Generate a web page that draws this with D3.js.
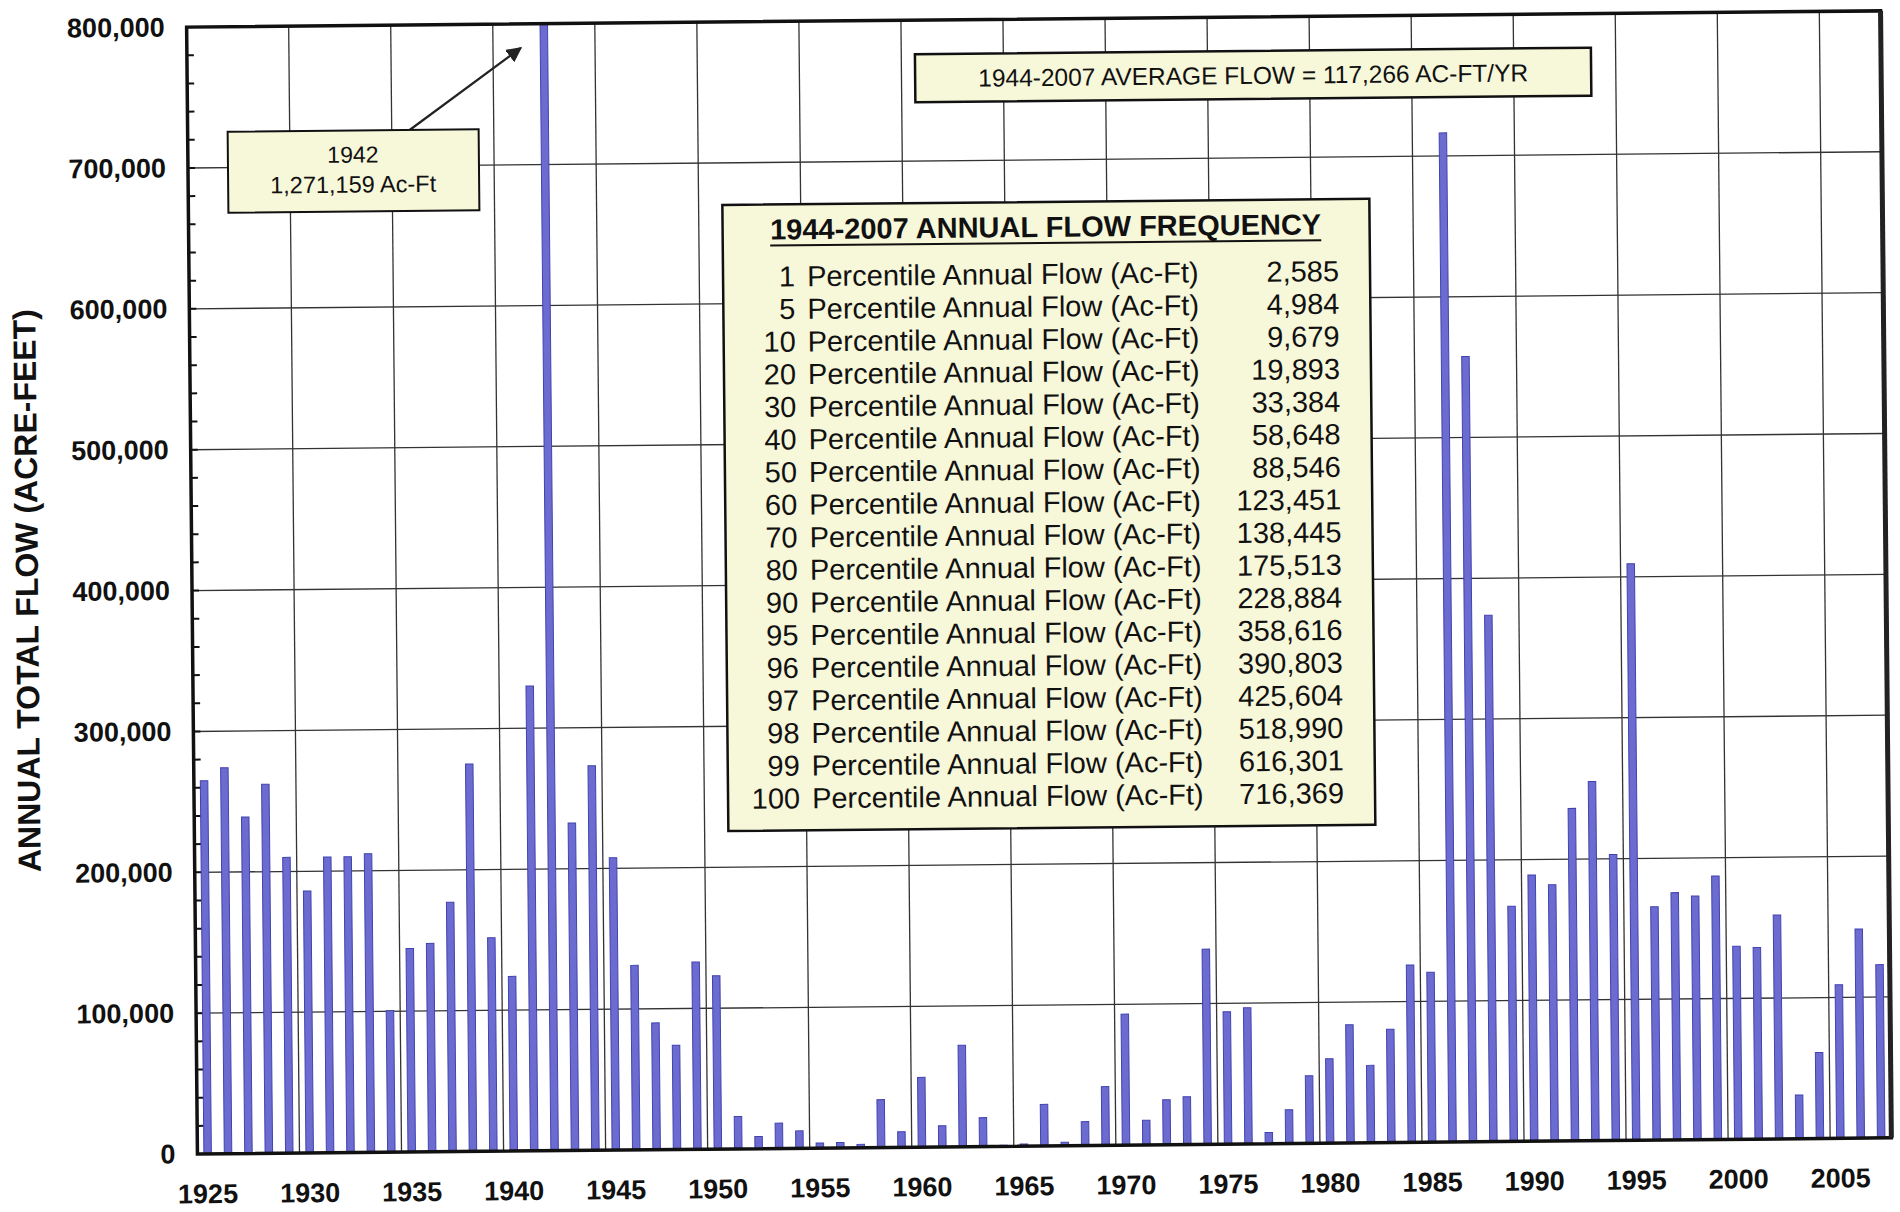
<!DOCTYPE html>
<html>
<head>
<meta charset="utf-8">
<script src="https://cdn.jsdelivr.net/npm/d3@7/dist/d3.min.js"></script>
<style>
  body { margin: 0; background: #fff; }
  svg { display: block; font-family: "Liberation Sans", Arial, sans-serif; }
</style>
</head>
<body>
<div id="chart"></div>
<script>
// annual total flow, one bar per year (acre-feet)
var years = [
  1925, 1926, 1927, 1928, 1929, 1930, 1931, 1932, 1933, 1934,
  1935, 1936, 1937, 1938, 1939, 1940, 1941, 1942, 1943, 1944,
  1945, 1946, 1947, 1948, 1949, 1950, 1951, 1952, 1953, 1954,
  1955, 1956, 1957, 1958, 1959, 1960, 1961, 1962, 1963, 1964,
  1965, 1966, 1967, 1968, 1969, 1970, 1971, 1972, 1973, 1974,
  1975, 1976, 1977, 1978, 1979, 1980, 1981, 1982, 1983, 1984,
  1985, 1986, 1987, 1988, 1989, 1990, 1991, 1992, 1993, 1994,
  1995, 1996, 1997, 1998, 1999, 2000, 2001, 2002, 2003, 2004,
  2005, 2006, 2007
];
var flows = [
  265000, 274000, 239000, 262000, 210000, 186000, 210000, 210000, 212000, 100500,
  144500, 148000, 177000, 275000, 151500, 124000, 330000, 1271159, 232500, 272973,
  207500, 131000, 90000, 74000, 133000, 123000, 23000, 8600, 18000, 12400,
  3600, 3800, 2400, 34000, 11000, 49500, 15000, 72000, 20500, 800,
  1500, 29500, 2500, 17000, 41700, 93000, 17600, 32000, 34000, 138600,
  94000, 96700, 8000, 24000, 48000, 60000, 84000, 55000, 80500, 126000,
  120700, 716369, 557530, 373729, 167000, 189000, 182000, 236000, 255000, 203000,
  409300, 165600, 175500, 173000, 187000, 137000, 136000, 159000, 31000, 61000,
  109000, 148500, 123000
];

var yTicks = [0, 100000, 200000, 300000, 400000, 500000, 600000, 700000, 800000];
var xLabelYears = [1925, 1930, 1935, 1940, 1945, 1950, 1955, 1960, 1965, 1970,
                   1975, 1980, 1985, 1990, 1995, 2000, 2005];

// frequency table
var pctRanks = [1, 5, 10, 20, 30, 40, 50, 60, 70, 80, 90, 95, 96, 97, 98, 99, 100];
var pctFlows = ['2,585', '4,984', '9,679', '19,893', '33,384', '58,648', '88,546',
                '123,451', '138,445', '175,513', '228,884', '358,616', '390,803',
                '425,604', '518,990', '616,301', '716,369'];

var peakYear = 1942;
var peakText = '1,271,159 Ac-Ft';
var averageText = '1944-2007 AVERAGE FLOW = 117,266 AC-FT/YR';
var tableTitle = '1944-2007 ANNUAL FLOW FREQUENCY';
var yTitle = 'ANNUAL TOTAL FLOW (ACRE-FEET)';

var width = 1900, height = 1212;
var plot = {left: 192, right: 1886, top: 19, bottom: 1146};
var boxFill = '#f7f7da';
var ink = '#111';

var data = years.map(function(yr, i) { return {year: yr, flow: flows[i]}; });

var svg = d3.select('#chart').append('svg')
    .attr('width', width)
    .attr('height', height);

// the original page was scanned a little crooked
var root = svg.append('g')
    .attr('transform', 'rotate(-0.55, 1037, 583)');

var x = d3.scaleBand()
    .domain(years)
    .range([plot.left, plot.right]);

var y = d3.scaleLinear()
    .domain([0, 800000])
    .range([plot.bottom, plot.top]);

var defs = svg.append('defs');
defs.append('clipPath')
    .attr('id', 'plot-clip')
  .append('rect')
    .attr('x', plot.left)
    .attr('y', plot.top)
    .attr('width', plot.right - plot.left)
    .attr('height', plot.bottom - plot.top);

defs.append('marker')
    .attr('id', 'arrow')
    .attr('viewBox', '0 0 10 10')
    .attr('refX', 9).attr('refY', 5)
    .attr('markerWidth', 7).attr('markerHeight', 7)
    .attr('orient', 'auto')
  .append('path')
    .attr('d', 'M0,0 L10,5 L0,10 Z')
    .attr('fill', '#222');

// grid
root.append('g').selectAll('line')
    .data(yTicks.slice(1, -1))
    .enter().append('line')
    .attr('x1', plot.left).attr('x2', plot.right)
    .attr('y1', function(d) { return y(d); })
    .attr('y2', function(d) { return y(d); })
    .attr('stroke', '#333').attr('stroke-width', 1.3);

root.append('g').selectAll('line')
    .data(xLabelYears.slice(1))
    .enter().append('line')
    .attr('x1', function(d) { return x(d); })
    .attr('x2', function(d) { return x(d); })
    .attr('y1', plot.top).attr('y2', plot.bottom)
    .attr('stroke', '#333').attr('stroke-width', 1.3);

// minor ticks on the value axis, pointing inward
root.append('g').selectAll('line')
    .data(y.ticks(40))
    .enter().append('line')
    .attr('x1', plot.left).attr('x2', plot.left + 7)
    .attr('y1', function(d) { return y(d); })
    .attr('y2', function(d) { return y(d); })
    .attr('stroke', ink).attr('stroke-width', 2);

// bars
var barW = 7.5;
root.append('g')
    .attr('clip-path', 'url(#plot-clip)')
  .selectAll('rect')
    .data(data)
    .enter().append('rect')
    .attr('x', function(d) { return x(d.year) + (x.bandwidth() - barW) / 2; })
    .attr('width', barW)
    .attr('y', function(d) { return y(d.flow); })
    .attr('height', function(d) { return plot.bottom - y(d.flow); })
    .attr('fill', '#6b6bd0')
    .attr('stroke', '#4242b0')
    .attr('stroke-width', 1);

// frame
root.append('rect')
    .attr('x', plot.left).attr('y', plot.top)
    .attr('width', plot.right - plot.left)
    .attr('height', plot.bottom - plot.top)
    .attr('fill', 'none')
    .attr('stroke', ink)
    .attr('stroke-width', 3.5);
root.append('line')
    .attr('x1', plot.right).attr('x2', plot.right)
    .attr('y1', plot.top).attr('y2', plot.bottom)
    .attr('stroke', '#222').attr('stroke-width', 5);

// axes
var yAxis = root.append('g')
    .attr('transform', 'translate(' + plot.left + ',0)')
    .call(d3.axisLeft(y).tickValues(yTicks).tickSize(0).tickPadding(22)
        .tickFormat(d3.format(',')));
yAxis.select('.domain').remove();
yAxis.selectAll('text')
    .attr('font-size', 27).attr('font-weight', 'bold')
    .attr('fill', ink).attr('font-family', '"Liberation Sans", Arial, sans-serif');

var xAxis = root.append('g')
    .attr('transform', 'translate(0,' + plot.bottom + ')')
    .call(d3.axisBottom(x).tickValues(xLabelYears).tickSize(0).tickPadding(30));
xAxis.select('.domain').remove();
xAxis.selectAll('text')
    .attr('font-size', 27).attr('font-weight', 'bold')
    .attr('fill', ink).attr('font-family', '"Liberation Sans", Arial, sans-serif');

root.append('text')
    .attr('transform', 'translate(38,581) rotate(-90)')
    .attr('text-anchor', 'middle')
    .attr('font-size', 32)
    .attr('font-weight', 'bold')
    .attr('fill', ink)
    .text(yTitle);

// peak annotation with arrow
root.append('line')
    .attr('x1', 414).attr('y1', 124)
    .attr('x2', 526).attr('y2', 43)
    .attr('stroke', '#222').attr('stroke-width', 2.2)
    .attr('marker-end', 'url(#arrow)');

root.append('rect')
    .attr('x', 232).attr('y', 124).attr('width', 251).attr('height', 81)
    .attr('fill', boxFill).attr('stroke', ink).attr('stroke-width', 2);
root.append('text')
    .attr('x', 357).attr('y', 156)
    .attr('text-anchor', 'middle').attr('font-size', 23).attr('fill', ink)
    .text(peakYear);
root.append('text')
    .attr('x', 357).attr('y', 186)
    .attr('text-anchor', 'middle').attr('font-size', 23.5).attr('fill', ink)
    .text(peakText);

// average flow box
root.append('rect')
    .attr('x', 920).attr('y', 53).attr('width', 676).attr('height', 48)
    .attr('fill', boxFill).attr('stroke', ink).attr('stroke-width', 2.5);
root.append('text')
    .attr('x', 1258).attr('y', 86)
    .attr('text-anchor', 'middle').attr('font-size', 24.5).attr('fill', ink)
    .text(averageText);

// frequency table
var table = root.append('g');
table.append('rect')
    .attr('x', 726).attr('y', 202).attr('width', 647).attr('height', 626)
    .attr('fill', boxFill).attr('stroke', ink).attr('stroke-width', 2.5);

var title = table.append('text')
    .attr('x', 1049).attr('y', 237)
    .attr('text-anchor', 'middle').attr('font-size', 29).attr('font-weight', 'bold')
    .attr('fill', ink)
    .text(tableTitle);
var tb = title.node().getBBox();
table.append('line')
    .attr('x1', tb.x).attr('x2', tb.x + tb.width)
    .attr('y1', 243).attr('y2', 243)
    .attr('stroke', ink).attr('stroke-width', 2);

var rowY = d3.scaleLinear().domain([0, pctRanks.length - 1]).range([284, 806]);
var rows = table.selectAll('g.row')
    .data(pctRanks)
    .enter().append('g')
    .attr('class', 'row')
    .attr('transform', function(d, i) { return 'translate(0,' + rowY(i) + ')'; });

rows.append('text')
    .attr('x', 798).attr('text-anchor', 'end')
    .attr('font-size', 29).attr('fill', ink)
    .text(function(d) { return d; });
rows.append('text')
    .attr('x', 810)
    .attr('font-size', 29).attr('fill', ink)
    .text('Percentile Annual Flow (Ac-Ft)');
rows.append('text')
    .attr('x', 1342).attr('text-anchor', 'end')
    .attr('font-size', 29).attr('fill', ink)
    .text(function(d, i) { return pctFlows[i]; });
</script>
</body>
</html>
